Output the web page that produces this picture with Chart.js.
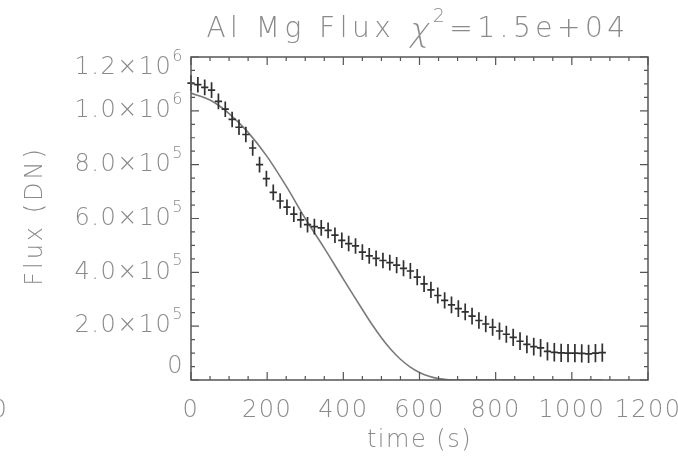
<!DOCTYPE html>
<html>
<head>
<meta charset="utf-8">
<script src="https://cdn.jsdelivr.net/npm/chart.js@4.4.0/dist/chart.umd.min.js"></script>
<style>
  html, body { margin: 0; padding: 0; background: #fff; }
</style>
</head>
<body>
<canvas id="myChart" width="678" height="463"></canvas>
<script>
// observed light curve (time bins of 18 s)
const times = [0, 18, 36, 54, 72, 90, 108, 126, 144, 162, 180, 198, 216, 234, 252, 270, 288, 306, 324, 342,
  360, 378, 396, 414, 432, 450, 468, 486, 504, 522, 540, 558, 576, 594, 612, 630, 648, 666, 684, 702,
  720, 738, 756, 774, 792, 810, 828, 846, 864, 882, 900, 918, 936, 954, 972, 990, 1008, 1026, 1044, 1062, 1080];
const flux = [1103000, 1097000, 1087000, 1077000, 1035000, 1006000, 968000, 939000, 912000, 862000,
  800000, 748000, 697000, 665000, 642000, 616000, 595000, 577000, 570000, 565000,
  556000, 538000, 519000, 507000, 498000, 475000, 461000, 452000, 444000, 436000,
  427000, 415000, 405000, 382000, 357000, 335000, 314000, 296000, 279000, 265000,
  253000, 237000, 221000, 208000, 196000, 182000, 170000, 158000, 144000, 132000,
  124000, 119000, 106000, 103000, 101000, 100000, 100000, 99000, 97000, 100000, 102000];
const fluxErr = [29000, 29000, 29000, 29000, 29000, 29000, 29000, 29000, 29000, 29000,
  29000, 29000, 29000, 29000, 29000, 29000, 29000, 29000, 29000, 29000,
  29000, 29000, 29000, 29000, 29000, 29000, 29000, 29000, 29000, 29000,
  30000, 30000, 30000, 30000, 30000, 30000, 30000, 30000, 31000, 31000,
  31000, 31000, 31000, 31000, 32000, 32000, 32000, 32000, 33000, 33000,
  33000, 33000, 34000, 34000, 34000, 34000, 34000, 34000, 34000, 34000, 34000];
const binHalf = 9.5;

// model curve
const modelTimes = [0, 50, 100, 150, 200, 250, 300, 350, 400, 425, 450, 475, 500, 525, 550, 575,
  600, 625, 650, 675, 700, 800, 900, 1000, 1080];
const modelFlux = [1066000, 1040000, 990000, 920000, 830000, 720000, 600000, 490000, 375000, 318000,
  262000, 207000, 157000, 113000, 77000, 49000, 28000, 14000, 5000, 1000, 0, 0, 0, 0, 0];

// axes
const xTicks = [0, 200, 400, 600, 800, 1000, 1200];
const xTickLabels = ['0', '200', '400', '600', '800', '1000', '1200'];
const yTicks = [0, 200000, 400000, 600000, 800000, 1000000, 1200000];
const yTickMant = ['0', '2.0\u00d710', '4.0\u00d710', '6.0\u00d710', '8.0\u00d710', '1.0\u00d710', '1.2\u00d710'];
const yTickExp = ['', '5', '5', '5', '5', '6', '6'];

const titleText = 'Al Mg Flux';
const chiValue = '=1.5e+04';
const xTitle = 'time (s)';
const yTitle = 'Flux (DN)';

const textColor = '#8a8a8a';
const fontFam = '"DejaVu Sans", sans-serif';

function setFont(ctx, size) {
  ctx.font = '200 ' + size + 'px ' + fontFam;
}

const idlAxes = {
  id: 'idlAxes',
  afterDatasetsDraw(chart) {
    const ctx = chart.ctx;
    const a = chart.chartArea;
    const xs = chart.scales.x, ys = chart.scales.y;
    ctx.save();

    // data crosses (bin width + error bar)
    ctx.strokeStyle = '#303030';
    ctx.lineWidth = 1.7;
    ctx.beginPath();
    for (let i = 0; i < times.length; i++) {
      const py = ys.getPixelForValue(flux[i]);
      const px = xs.getPixelForValue(times[i]);
      ctx.moveTo(xs.getPixelForValue(times[i] - binHalf), py);
      ctx.lineTo(xs.getPixelForValue(times[i] + binHalf), py);
      ctx.moveTo(px, ys.getPixelForValue(flux[i] - fluxErr[i]));
      ctx.lineTo(px, ys.getPixelForValue(flux[i] + fluxErr[i]));
    }
    ctx.stroke();

    // box and inward ticks
    ctx.strokeStyle = '#555';
    ctx.lineWidth = 1.5;
    ctx.strokeRect(a.left, a.top, a.right - a.left, a.bottom - a.top);
    ctx.lineWidth = 1.2;
    ctx.beginPath();
    for (let v = 0; v <= 1200; v += 50) {
      const px = xs.getPixelForValue(v);
      const len = v % 200 === 0 ? 8 : 4;
      ctx.moveTo(px, a.bottom); ctx.lineTo(px, a.bottom - len);
      ctx.moveTo(px, a.top); ctx.lineTo(px, a.top + len);
    }
    for (let v = 0; v <= 1200000; v += 50000) {
      const py = ys.getPixelForValue(v);
      const len = v % 200000 === 0 ? 8 : 4;
      ctx.moveTo(a.left, py); ctx.lineTo(a.left + len, py);
      ctx.moveTo(a.right, py); ctx.lineTo(a.right - len, py);
    }
    ctx.stroke();

    // tick labels
    ctx.fillStyle = textColor;
    ctx.letterSpacing = '1.5px';
    ctx.textBaseline = 'middle';
    setFont(ctx, 24);
    ctx.textAlign = 'center';
    xTicks.forEach((v, i) => {
      ctx.fillText(xTickLabels[i], xs.getPixelForValue(v), 411);
    });
    ctx.fillText('0', 0, 411);

    ctx.textAlign = 'left';
    yTicks.forEach((v, i) => {
      let py = ys.getPixelForValue(v);
      if (i === 0) py -= 13;
      if (i === yTicks.length - 1) py += 11;
      setFont(ctx, 24);
      const w1 = ctx.measureText(yTickMant[i]).width;
      setFont(ctx, 16);
      const w2 = yTickExp[i] ? ctx.measureText(yTickExp[i]).width : 0;
      const x0 = 184 - w1 - w2;
      setFont(ctx, 24);
      ctx.fillText(yTickMant[i], x0, py);
      if (yTickExp[i]) {
        setFont(ctx, 16);
        ctx.fillText(yTickExp[i], x0 + w1, py - 11);
      }
    });

    // axis titles
    setFont(ctx, 24);
    ctx.textAlign = 'center';
    ctx.fillText(xTitle, (a.left + a.right) / 2, 441);
    ctx.save();
    ctx.letterSpacing = '3px';
    ctx.translate(36, 216);
    ctx.rotate(-Math.PI / 2);
    ctx.fillText(yTitle, 0, 0);
    ctx.restore();

    // title with chi^2
    ctx.letterSpacing = '4.5px';
    ctx.textBaseline = 'alphabetic';
    ctx.textAlign = 'left';
    setFont(ctx, 28);
    const t1 = titleText + ' ';
    const wT = ctx.measureText(t1).width;
    setFont(ctx, 33);
    const wC = ctx.measureText('\u03c7').width;
    setFont(ctx, 19);
    const wS = ctx.measureText('2').width;
    setFont(ctx, 28);
    const wV = ctx.measureText(chiValue).width;
    let tx = 418 - (wT + wC + wS + wV) / 2;
    const base = 37;
    ctx.fillText(t1, tx, base);
    tx += wT;
    setFont(ctx, 33);
    ctx.save();
    ctx.translate(tx, base + 4);
    ctx.transform(1, 0, -0.22, 1, 0, 0);
    ctx.fillText('\u03c7', 0, 0);
    ctx.restore();
    tx += wC;
    setFont(ctx, 19);
    ctx.fillText('2', tx, base - 15);
    tx += wS;
    setFont(ctx, 28);
    ctx.fillText(chiValue, tx, base);

    ctx.restore();
  }
};

const ctx = document.getElementById('myChart');
new Chart(ctx, {
  type: 'scatter',
  data: {
    datasets: [
      {
        label: 'model',
        data: modelTimes.map((t, i) => ({ x: t, y: modelFlux[i] })),
        showLine: true,
        borderColor: '#7a7a7a',
        borderWidth: 1.6,
        pointRadius: 0,
        cubicInterpolationMode: 'monotone'
      },
      {
        label: 'data',
        data: times.map((t, i) => ({ x: t, y: flux[i] })),
        showLine: false,
        pointRadius: 0
      }
    ]
  },
  options: {
    responsive: false,
    animation: false,
    layout: { padding: { left: 191, right: 30, top: 57, bottom: 83 } },
    scales: {
      x: { type: 'linear', min: 0, max: 1200, display: false },
      y: { type: 'linear', min: 0, max: 1200000, display: false }
    },
    plugins: { legend: { display: false }, tooltip: { enabled: false } }
  },
  plugins: [idlAxes]
});
</script>
</body>
</html>
